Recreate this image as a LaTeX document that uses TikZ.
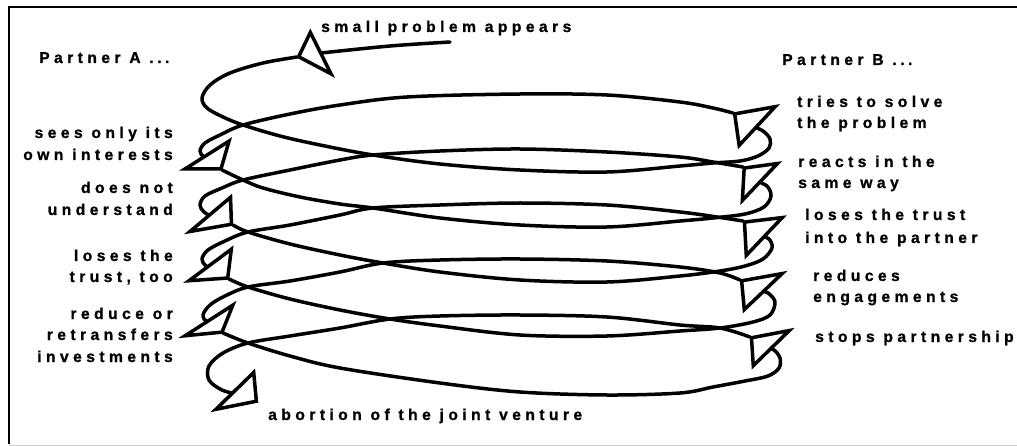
\documentclass[tikz,border=0pt]{standalone}
\usepackage{fontspec}
\setmainfont{Liberation Sans}
\newfontfamily\lblfont[LetterSpace=28,FakeBold=1]{Liberation Sans}
\newcommand\wdots{.\kern3.5pt.\kern3.5pt.}
\begin{document}
\begin{tikzpicture}[x=1pt,y=-1pt,
  spiral/.style={line width=3.5pt, line cap=round, line join=round},
  head/.style={line width=3.5pt, line join=miter, fill=white, draw=black},
  lbl/.style={inner sep=0pt, font=\lblfont\bfseries\fontsize{15.7}{21}\selectfont},
  smoothly/.style={smooth, tension=0.55}]
\useasboundingbox (0,0) rectangle (1017,446);
% frame
\draw[line width=2.2pt] (9,444) -- (9,7) -- (1017,7);
\draw[black!20, line width=1pt] (9,445.5) -- (1017,445.5);
% spiral lines
\draw[spiral] plot[smoothly] coordinates {(450,42) (390,46) (321,53)};
\draw[spiral] plot[smoothly] coordinates {(297,57) (263,63) (230,73) (210,85) (202,98) (207,108) (223,117) (243,125) (280,136) (320,145) (373,155) (440,164) (520,170) (607,172) (680,166) (713,163) (740,161) (758,156) (769,148) (770,139) (763,131) (752,126)};
\draw[spiral] plot[smoothly] coordinates {(733,113) (713,108) (680,102) (607,95) (520,94) (407,97) (340,105) (290,114) (243,125) (220,135) (205,143) (200,151) (204,157) (214,161)};
\draw[spiral] plot[smoothly] coordinates {(222,170) (243,180) (263,188) (300,197) (340,204) (373,208) (440,218) (520,225) (607,227) (680,221) (713,218) (745,214) (764,207) (771,196) (767,186) (756,181)};
\draw[spiral] plot[smoothly] coordinates {(743,167) (713,162) (680,157) (607,152) (520,149) (440,151) (373,155) (340,160) (290,170) (243,180) (222,188) (205,196) (200,205) (204,212) (214,218)};
\draw[spiral] plot[smoothly] coordinates {(233,225) (248,232) (290,244) (340,255) (383,263) (440,272) (520,280) (607,282) (680,276) (720,271) (745,266) (763,259) (772,248) (769,239) (759,235)};
\draw[spiral] plot[smoothly] coordinates {(743,221) (717,217) (680,212) (607,205) (520,203) (440,205) (373,208) (340,215) (290,225) (248,232) (225,241) (208,250) (202,259) (206,266) (216,270)};
\draw[spiral] plot[smoothly] coordinates {(229,279) (248,287) (290,299) (340,310) (390,319) (440,326) (520,335) (607,336) (680,331) (720,328) (753,322) (770,315) (775,302) (768,293) (758,290)};
\draw[spiral] plot[smoothly] coordinates {(740,280) (720,273) (680,267) (607,261) (520,259) (440,260) (383,263) (340,272) (290,281) (248,287) (225,296) (210,305) (203,315) (207,322) (216,325)};
\draw[spiral] plot[smoothly] coordinates {(223,333) (248,343) (290,356) (340,368) (440,383) (520,392) (607,395) (680,393) (713,387) (745,381) (768,376) (779,368) (780,358) (774,350) (765,347)};
\draw[spiral] plot[smoothly] coordinates {(750,337) (720,328) (680,325) (607,317) (520,315) (440,316) (390,319) (340,328) (290,336) (248,343) (223,353) (209,366) (209,380) (222,390) (240,395)};
% arrow heads
\draw[head, scale around={0.9:(313.3,54.3)}] (310,30) -- (297,57) -- (333,76) -- cycle;
\draw[head, scale around={0.9:(749.7,122)}] (733,113) -- (778,105) -- (738,148) -- cycle;
\draw[head, scale around={0.9:(754.7,177.3)}] (743,167) -- (780,162) -- (741,203) -- cycle;
\draw[head, scale around={0.9:(757.7,231.7)}] (743,221) -- (785,216) -- (745,258) -- cycle;
\draw[head, scale around={0.9:(756,288)}] (740,280) -- (785,272) -- (743,312) -- cycle;
\draw[head, scale around={0.9:(764.7,344.7)}] (750,337) -- (792,329) -- (752,368) -- cycle;
\draw[head, scale around={0.9:(211.7,159.7)}] (182,170) -- (231,139) -- (222,170) -- cycle;
\draw[head, scale around={0.9:(217.3,217.7)}] (187,233) -- (232,195) -- (233,225) -- cycle;
\draw[head, scale around={0.9:(216,269.3)}] (186,282) -- (233,247) -- (229,279) -- cycle;
\draw[head, scale around={0.9:(213.3,324.3)}] (182,337) -- (235,303) -- (223,333) -- cycle;
\draw[head, scale around={0.9:(242,394.3)}] (213,411) -- (255,370) -- (258,402) -- cycle;
% labels
\node[lbl, anchor=base west] (small) at (321,32) {small problem appears};
\node[lbl, anchor=base west] (pa) at (39,63) {Partner A \wdots};
\node[lbl, anchor=base west] (pb) at (782,65) {Partner B \wdots};
\node[lbl, anchor=base east, align=right] (sees) at (173,160) {sees only its\\[1pt]own interests};
\node[lbl, anchor=base east, align=right] (doesnot) at (173,215) {does not\\[1pt]understand};
\node[lbl, anchor=base east, align=right] (losesA) at (173,282) {loses the\\trust, too};
\node[lbl, anchor=base east, align=right] (reduce) at (173,362) {reduce or\\retransfers\\[1pt]investments};
\node[lbl, anchor=base west] (abortion) at (268,420) {abortion of the joint venture};
\node[lbl, anchor=base west, align=left] (tries) at (797,128) {tries to solve\\the problem};
\node[lbl, anchor=base west, align=left] (reacts) at (798,188) {reacts in the\\same way};
\node[lbl, anchor=base west, align=left] (losesB) at (805,243) {loses the trust\\[2pt]into the partner};
\node[lbl, anchor=base west, align=left] (reduces) at (813,302) {reduces\\engagements};
\node[lbl, anchor=base west] (stops) at (815,342) {stops partnership};
\end{tikzpicture}
\end{document}
